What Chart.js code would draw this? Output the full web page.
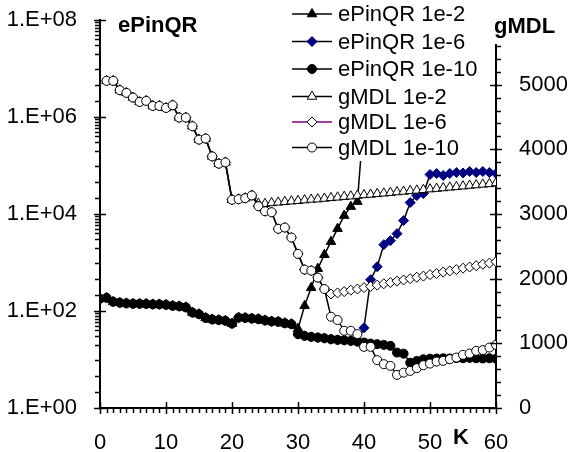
<!DOCTYPE html>
<html><head><meta charset="utf-8">
<script src="https://cdn.jsdelivr.net/npm/chart.js@4/dist/chart.umd.min.js"></script>
<style>html,body{margin:0;padding:0;background:#fff}canvas{display:block}</style>
</head><body>
<canvas id="c" width="570" height="452"></canvas>
<script>
// ---- data ----
const K = [0,1,2,3,4,5,6,7,8,9,10,11,12,13,14,15,16,17,18,19,20,21,22,23,24,25,26,27,28,29,30,31,32,33,34,35,36,37,38,39,40,41,42,43,44,45,46,47,48,49,50,51,52,53,54,55,56,57,58,59,60];

const ePinQR_1e2 = [179,187,155,148,144,141,141,140,137,137,134,128,125,119,93,86,72,67,65,63,55,73,72,70,68,64,61,60,56,53.6,
  42.9,128,301,745,1449,2690,4990,9270,14200,18000,1000000,null,null,null,null,null,null,null,null,null,null,null,null,null,null,null,null,null,null,null,null];

const ePinQR_1e6 = [179,187,155,148,144,141,141,140,137,137,134,128,125,119,93,86,72,67,65,63,55,73,72,70,68,64,61,60,56,53.6,
  33.3,30.7,29.3,28.3,27.5,26.2,25.4,25.0,24.2,23.4,45,441,819,2333,2820,3935,7310,17200,24000,26300,65200,68400,62100,68400,71700,70000,75200,71700,75200,71700,68400];

const ePinQR_1e10 = [179,187,155,148,144,141,141,140,137,137,134,128,125,119,93,86,72,67,65,63,55,73,72,70,68,64,61,60,56,53.6,
  33.3,30.7,29.3,28.3,27.5,26.2,25.4,25.0,24.2,23.4,22.4,21.3,20.7,20.0,19.1,13.9,13.2,8.6,9.35,10.1,10.4,10.5,10.6,10.5,10.7,10.6,10.8,10.6,10.5,10.6,10.4];

const gMDL_1e2 = [null,5059,5059,4915,4873,4801,4733,4749,4671,4671,4640,4682,4491,4491,4357,4150,4166,3891,3778,3798,3220,3229,3245,3287,
  3160,3158,3172,3180,3190,3198,3205,3215,3225,3230,3240,3250,3258,3268,3275,3285,3295,3302,3312,3320,3330,3340,3348,3358,3365,3375,3385,3393,3402,3412,3420,3430,3440,3448,3458,3466,3480];

const gMDL_1e6 = [null,5059,5059,4915,4873,4801,4733,4749,4671,4671,4640,4682,4491,4491,4357,4150,4166,3891,3778,3798,3220,3229,3245,3287,3121,3043,3028,2771,2791,2636,2383,2140,2124,2016,1840,
  1763,1780,1800,1822,1840,1862,1880,1900,1921,1940,1962,1980,2000,2022,2040,2062,2080,2102,2120,2140,2162,2180,2200,2222,2240,2262];

const gMDL_1e10 = [null,5059,5059,4915,4873,4801,4733,4749,4671,4671,4640,4682,4491,4491,4357,4150,4166,3891,3778,3798,3220,3229,3245,3287,3121,3043,3028,2771,2791,2636,2383,2140,2124,2016,1840,
  1411,1360,1194,1194,1143,946,946,740,678,651,512,547,574,616,662,687,718,729,755,780,822,842,884,895,935,977];

const seriesNames = ['ePinQR 1e-2','ePinQR 1e-6','ePinQR 1e-10','gMDL 1e-2','gMDL 1e-6','gMDL 1e-10'];
const xTickValues = [0,10,20,30,40,50,60];
const leftTickValues = [1,1e2,1e4,1e6,1e8];
const leftTickLabels = ['1.E+00','1.E+02','1.E+04','1.E+06','1.E+08'];
const rightTickValues = [0,1000,2000,3000,4000,5000];
const rightTickLabels = ['0','1000','2000','3000','4000','5000'];
const leftTitle = 'ePinQR', rightTitle = 'gMDL', xTitle = 'K';

// ---- styling ----
const FONT = "'Liberation Sans', Arial, Helvetica, sans-serif";
const FS = 22;
const seriesValues = [ePinQR_1e2, ePinQR_1e6, ePinQR_1e10, gMDL_1e2, gMDL_1e6, gMDL_1e10];
const styles = [
  {axis:'y',  line:'#000',    border:'#000',    fill:'#000',    ps:'triangle', r:5.5},
  {axis:'y',  line:'#000',    border:'#000080', fill:'#000080', ps:'rectRot',  r:5},
  {axis:'y',  line:'#000',    border:'#000',    fill:'#000',    ps:'circle',   r:4.5},
  {axis:'y2', line:'#000',    border:'#000',    fill:'#fff',    ps:'triangle', r:5.5},
  {axis:'y2', line:'#800080', border:'#000',    fill:'#fff',    ps:'rectRot',  r:5},
  {axis:'y2', line:'#000',    border:'#000',    fill:'#fff',    ps:'circle',   r:4.5},
];
const datasets = seriesValues.map((vals, i) => ({
  label: seriesNames[i],
  data: K.map((k, j) => ({x: k, y: vals[j]})),
  yAxisID: styles[i].axis,
  borderColor: styles[i].line,
  borderWidth: 1.5,
  pointStyle: styles[i].ps,
  pointRadius: styles[i].r,
  pointBorderColor: styles[i].border,
  pointBackgroundColor: styles[i].fill,
  pointBorderWidth: 1,
  tension: 0,
  fill: false,
  spanGaps: false,
  order: 5 - i
}));

const tickFont = {family: FONT, size: FS};
const noPad = (s) => { s.paddingTop = 0; s.paddingBottom = 0; s.paddingLeft = 0; s.paddingRight = 0; };

const decor = {
  id: 'decor',
  afterDraw(chart) {
    const ctx = chart.ctx;
    const xs = chart.scales.x, yl = chart.scales.y, yr = chart.scales.y2;
    const L = chart.chartArea.left, R = chart.chartArea.right, B = chart.chartArea.bottom;
    ctx.save();
    ctx.strokeStyle = '#000';
    ctx.lineWidth = 1.5;
    const seg = (x1, y1, x2, y2) => { ctx.beginPath(); ctx.moveTo(x1, y1); ctx.lineTo(x2, y2); ctx.stroke(); };
    // x-axis ticks
    for (let k = 0; k <= 60; k++) {
      const px = Math.round(xs.getPixelForValue(k)) + 0.5;
      if (k % 10 === 0) seg(px, B - 6, px, B + 6); else seg(px, B, px, B + 5);
    }
    // left log-axis ticks: major every two decades, minor ticks
    for (let n = 0; n < 8; n += 2) {
      const major = Math.pow(10, n);
      let py = Math.round(yl.getPixelForValue(major)) + 0.5;
      seg(L - 6, py, L + 6, py);
      [1/3, 2/3].forEach(f => {
        py = Math.round(yl.getPixelForValue(Math.pow(10, n + f))) + 0.5;
        seg(L - 5, py, L, py);
      });
      for (let m = 1; m <= 9; m++) {
        py = Math.round(yl.getPixelForValue(m * Math.pow(10, n + 1))) + 0.5;
        seg(L - 5, py, L, py);
      }
    }
    let pyTop = Math.round(yl.getPixelForValue(1e8)) + 0.5;
    seg(L - 6, pyTop, L + 6, pyTop);
    // right linear-axis ticks
    for (let v = 0; v <= 6000; v += 200) {
      const py = Math.round(yr.getPixelForValue(v)) + 0.5;
      if (v % 1000 === 0) seg(R - 6, py, R + 6, py); else seg(R, py, R + 5, py);
    }
    // legend
    ctx.fillStyle = '#fff';
    ctx.fillRect(284, 0, 200, 161);
    const rowsY = [14, 41.5, 69, 96.5, 122, 147.5];
    ctx.font = FS + 'px ' + FONT;
    ctx.textBaseline = 'middle';
    ctx.textAlign = 'left';
    seriesNames.forEach((name, i) => {
      const y = rowsY[i];
      ctx.strokeStyle = styles[i].line;
      ctx.lineWidth = 1.5;
      seg(292, y, 332, y);
      ctx.fillStyle = styles[i].fill;
      ctx.strokeStyle = styles[i].border;
      ctx.lineWidth = 1;
      Chart.helpers.drawPoint(ctx, {pointStyle: styles[i].ps, radius: styles[i].r, rotation: 0, borderWidth: 1}, 312, y);
      ctx.fillStyle = '#000';
      ctx.fillText(name, 338, y + 1);
    });
    // titles
    ctx.fillStyle = '#fff';
    ctx.fillRect(488, 6, 82, 38);
    ctx.fillStyle = '#000';
    ctx.font = 'bold ' + FS + 'px ' + FONT;
    ctx.fillText(rightTitle, 494, 27);
    ctx.fillText(leftTitle, 118, 26);
    ctx.textAlign = 'center';
    ctx.fillText(xTitle, 461, 438);
    ctx.restore();
  }
};

new Chart(document.getElementById('c').getContext('2d'), {
  type: 'line',
  data: {datasets},
  options: {
    responsive: false,
    animation: false,
    devicePixelRatio: 1,
    layout: {padding: {top: 20, left: 0, right: 0, bottom: 0}},
    plugins: {legend: {display: false}, tooltip: {enabled: false}},
    scales: {
      x: {
        type: 'linear', min: 0, max: 60, position: 'bottom',
        afterFit(s) { s.height = 44; noPad(s); },
        afterBuildTicks(s) { s.ticks = xTickValues.map(v => ({value: v})); },
        ticks: {color: '#000', font: tickFont, padding: 14, maxRotation: 0, autoSkip: false},
        grid: {display: false},
        border: {display: true, color: '#000', width: 2}
      },
      y: {
        type: 'logarithmic', min: 1, max: 1e8, position: 'left',
        afterFit(s) { s.width = 100; noPad(s); },
        afterBuildTicks(s) { s.ticks = leftTickValues.map(v => ({value: v})); },
        ticks: {color: '#000', font: tickFont, padding: 15,
          callback: (v) => { const i = leftTickValues.indexOf(v); return i >= 0 ? leftTickLabels[i] : ''; }},
        grid: {display: false},
        border: {display: true, color: '#000', width: 2}
      },
      y2: {
        type: 'linear', min: 0, max: 6000, position: 'right',
        afterFit(s) { s.width = 74; noPad(s); },
        afterBuildTicks(s) { s.ticks = rightTickValues.map(v => ({value: v})); },
        ticks: {color: '#000', font: tickFont, padding: 15,
          callback: (v) => { const i = rightTickValues.indexOf(v); return i >= 0 ? rightTickLabels[i] : ''; }},
        grid: {display: false},
        border: {display: true, color: '#000', width: 2}
      }
    }
  },
  plugins: [decor]
});
</script>
</body></html>
